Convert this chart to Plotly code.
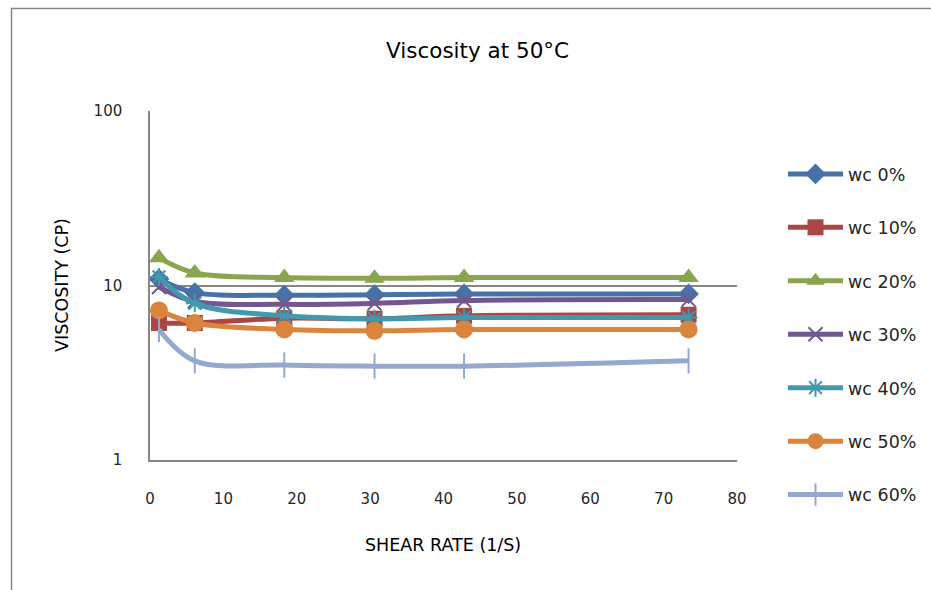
import plotly.graph_objects as go

# Shear rates (1/s) of the rotational viscometer readings
shear_rate = [1.22, 6.1, 18.3, 30.6, 42.8, 73.4]

# Viscosity (cP) at 50 °C for each water-cut level
wc_0 = [10.9, 9.1, 8.8, 8.85, 8.95, 8.95]
wc_10 = [6.1, 6.1, 6.5, 6.45, 6.7, 6.8]
wc_20 = [14.4, 11.8, 11.1, 11.0, 11.1, 11.1]
wc_30 = [9.8, 8.1, 7.8, 7.9, 8.2, 8.3]
wc_40 = [11.2, 7.9, 6.7, 6.45, 6.55, 6.55]
wc_50 = [7.2, 6.1, 5.6, 5.5, 5.6, 5.6]
wc_60 = [5.6, 3.7, 3.5, 3.45, 3.45, 3.7]

series_names = ["wc 0%", "wc 10%", "wc 20%", "wc 30%", "wc 40%", "wc 50%", "wc 60%"]
series_values = [wc_0, wc_10, wc_20, wc_30, wc_40, wc_50, wc_60]

x_ticks = [0, 10, 20, 30, 40, 50, 60, 70, 80]
y_ticks = [1, 10, 100]

colors = ["#4572A7", "#AA4643", "#89A54E", "#71588F", "#4198AF", "#DB843D", "#93A9CF"]
symbols = ["diamond", "square", "triangle-up", "x-thin", "asterisk-open", "circle", "line-ns-open"]
sizes = [16, 16, 18, 14, 15, 18, 18]

FONT = "DejaVu Sans"
TEXT = "#262626"
AXIS = "#868686"

W, H = 931, 590
L, R, T, B = 150, 194, 111, 130
pw, ph = W - L - R, H - T - B


def px_x(px):
    return (px - L) / pw


def px_y(py):
    return (H - B - py) / ph


fig = go.Figure()
for i, (name, vals) in enumerate(zip(series_names, series_values)):
    thin = symbols[i] in ("x-thin", "asterisk-open", "line-ns-open")
    fig.add_trace(go.Scatter(
        x=shear_rate, y=vals, name=name, mode="lines+markers",
        legendgroup=name,
        line=dict(color=colors[i], width=5, shape="spline", smoothing=1.0),
        marker=dict(symbol=symbols[i], size=sizes[i], color=colors[i],
                    line=dict(color=colors[i], width=2 if thin else 0)),
    ))

fig.update_layout(
    width=W, height=H,
    margin=dict(l=L, r=R, t=T, b=B, autoexpand=False),
    paper_bgcolor="white", plot_bgcolor="white",
    font=dict(family=FONT, size=15, color=TEXT),
    showlegend=True,
    legend=dict(x=px_x(783), y=px_y(156), xanchor="left", yanchor="top",
                font=dict(family=FONT, size=17.5, color=TEXT),
                itemwidth=55, tracegroupgap=27.7, maxheight=1000,
                bgcolor="rgba(0,0,0,0)"),
    xaxis=dict(range=[0, 80], tickvals=x_ticks, showgrid=False, zeroline=False,
               showline=True, linecolor=AXIS, linewidth=1.5, ticks="",
               ticklabelstandoff=24, tickfont=dict(size=15, color=TEXT)),
    yaxis=dict(type="log", range=[0, 2], tickvals=y_ticks, ticktext=[str(v) for v in y_ticks],
               showgrid=True, gridcolor=AXIS, gridwidth=1.5, zeroline=False,
               showline=True, linecolor=AXIS, linewidth=1.5, ticks="",
               ticklabelstandoff=23, tickfont=dict(size=15, color=TEXT)),
    annotations=[
        dict(text="Viscosity at 50°C", xref="paper", yref="paper",
             x=px_x(477), y=px_y(51), xanchor="center", yanchor="middle",
             showarrow=False, font=dict(family=FONT, size=21.5, color="#000000")),
        dict(text="SHEAR RATE (1/S)", xref="paper", yref="paper",
             x=px_x(443), y=px_y(545), xanchor="center", yanchor="middle",
             showarrow=False, font=dict(family=FONT, size=17.5, color="#000000")),
        dict(text="VISCOSITY (CP)", xref="paper", yref="paper", textangle=-90,
             x=px_x(62), y=px_y(285), xanchor="center", yanchor="middle",
             showarrow=False, font=dict(family=FONT, size=17.5, color="#000000")),
    ],
    shapes=[
        # outer chart border
        dict(type="rect", xref="paper", yref="paper", layer="below",
             x0=px_x(11.5), x1=px_x(960), y0=px_y(620), y1=px_y(8.5),
             line=dict(color=AXIS, width=1.5), fillcolor="rgba(0,0,0,0)"),
    ],
)

fig.write_html("out.html")
